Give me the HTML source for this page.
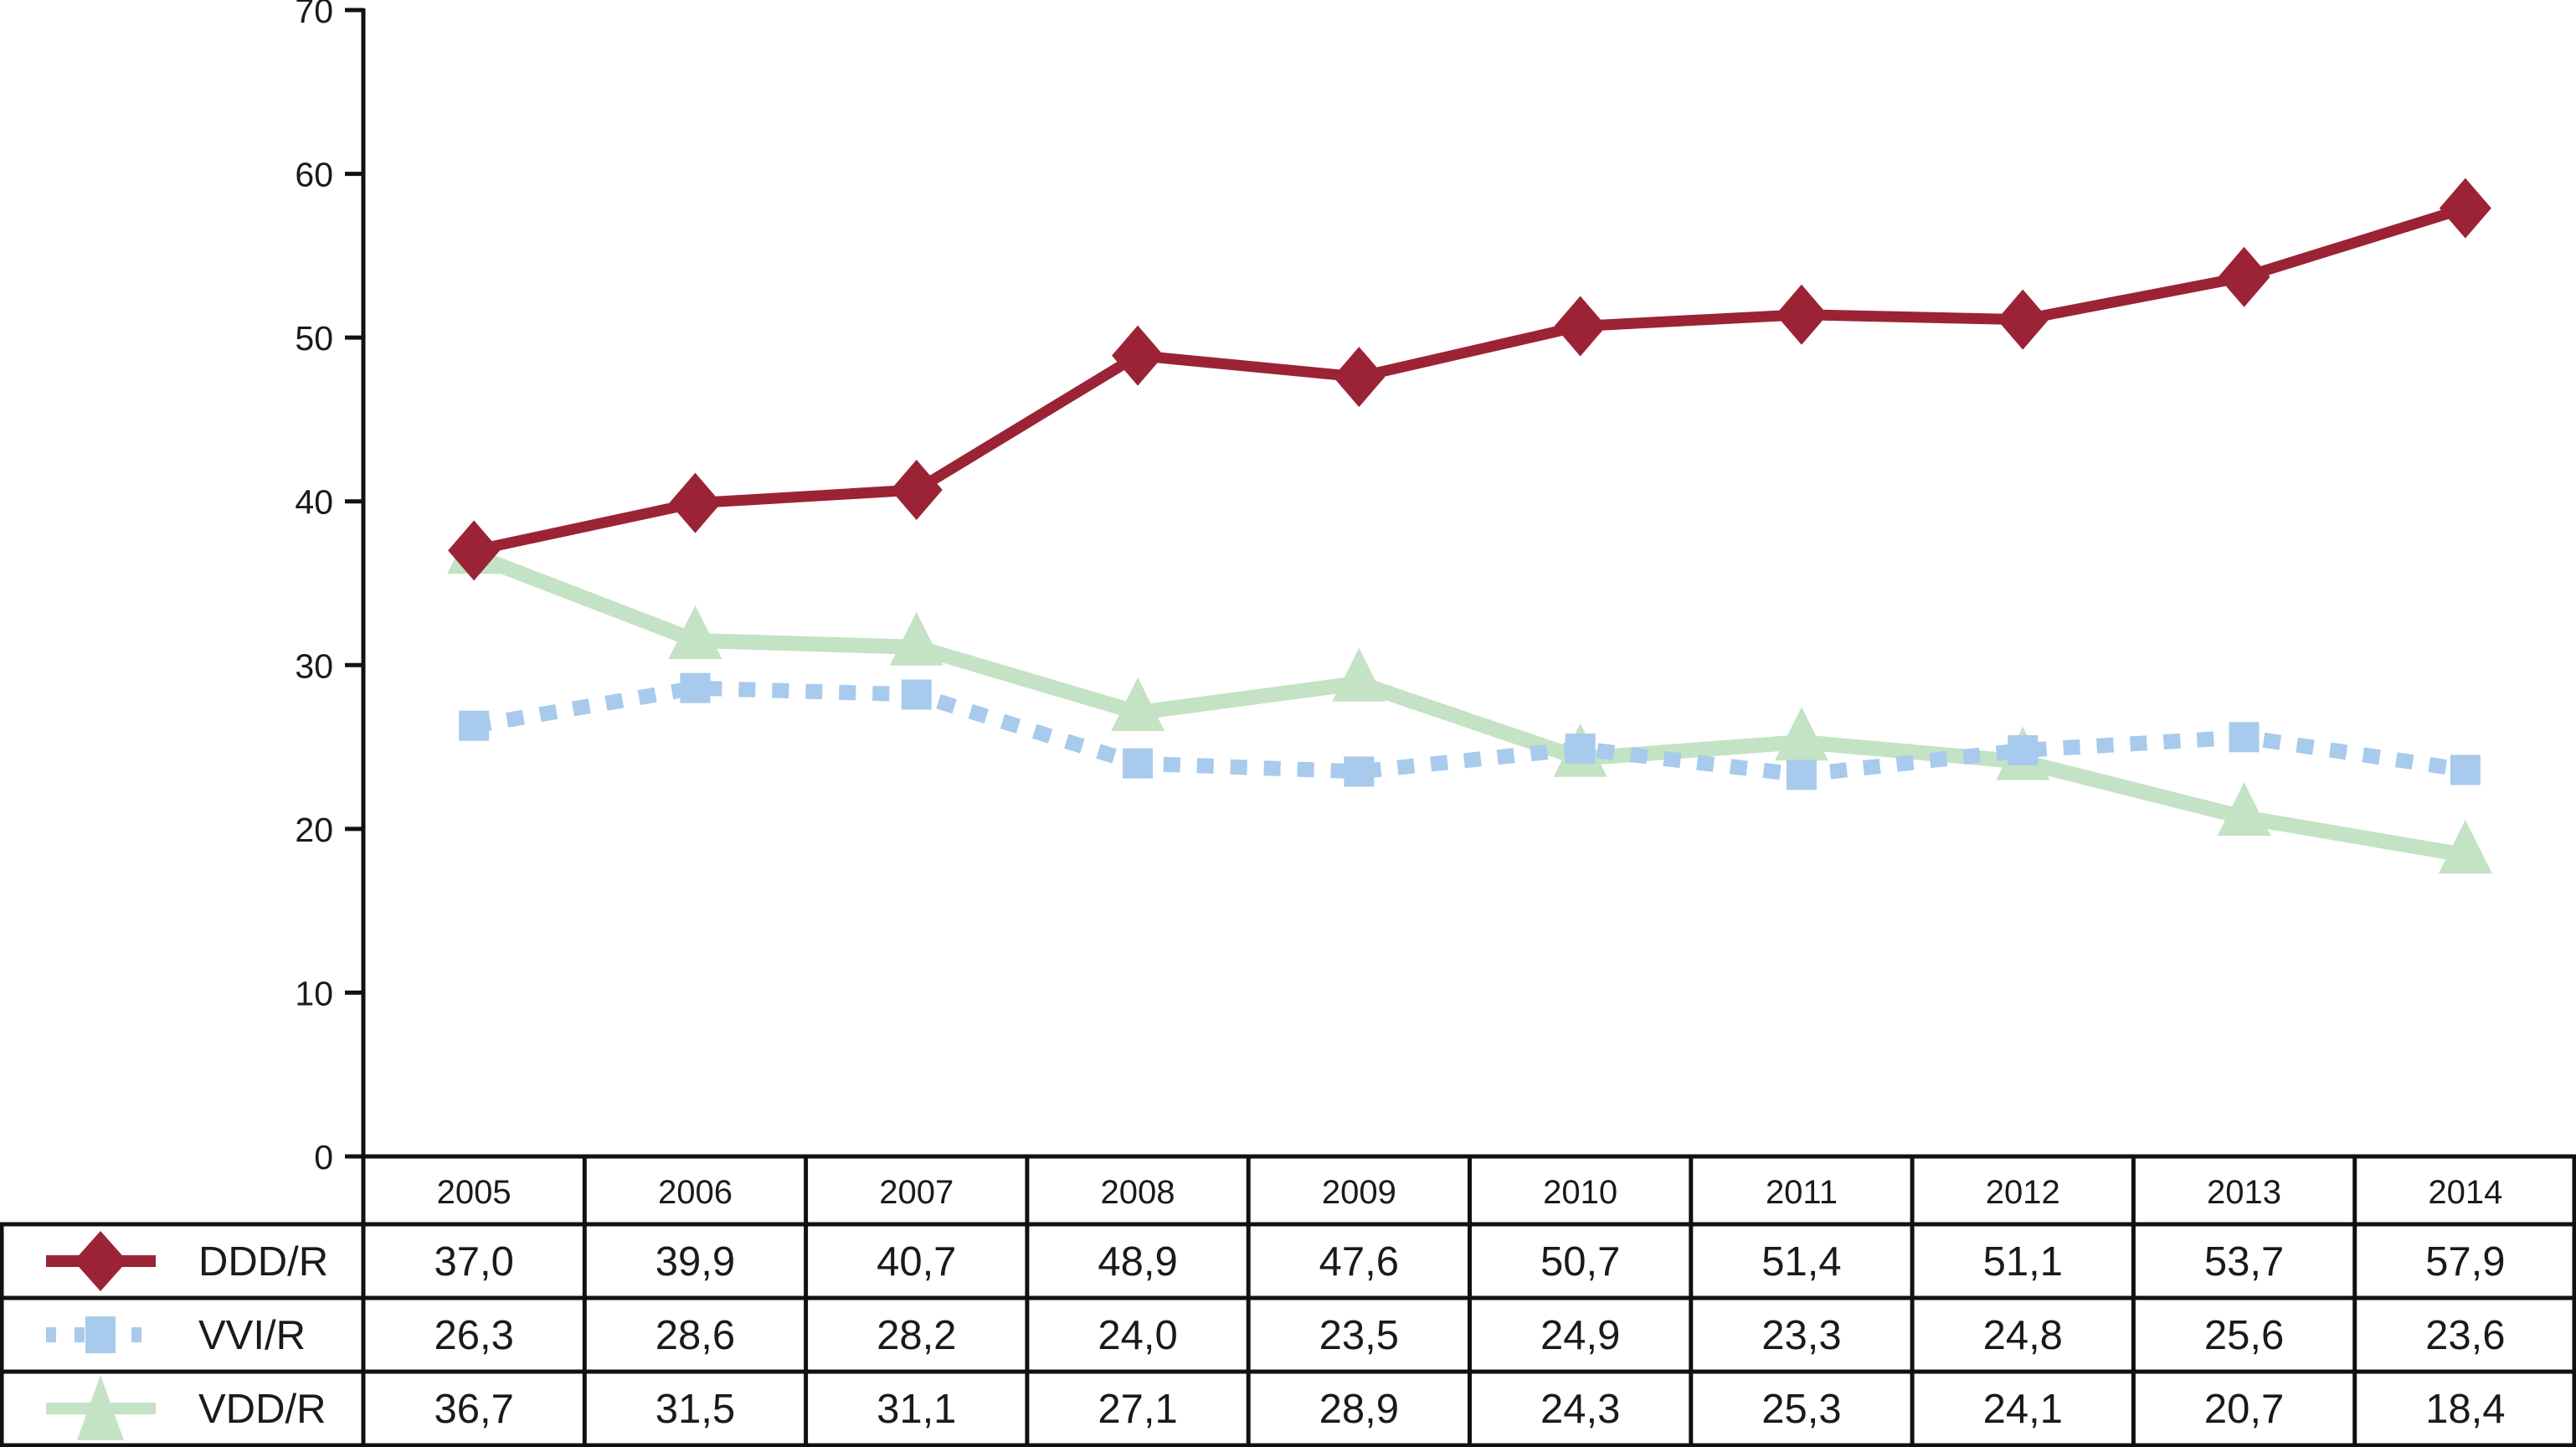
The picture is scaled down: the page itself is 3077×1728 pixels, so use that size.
<!DOCTYPE html>
<html><head><meta charset="utf-8"><style>
html,body{margin:0;padding:0;background:#fff}
svg{display:block}
text{font-family:"Liberation Sans",Arial,sans-serif;fill:#1a1a1a}
</style></head><body>
<svg id="chart" width="3077" height="1728" viewBox="0 0 3077 1728" xmlns="http://www.w3.org/2000/svg"></svg>
<script>
const years = ["2005","2006","2007","2008","2009","2010","2011","2012","2013","2014"];
const dddValues = [37.0,39.9,40.7,48.9,47.6,50.7,51.4,51.1,53.7,57.9];
const vviValues = [26.3,28.6,28.2,24.0,23.5,24.9,23.3,24.8,25.6,23.6];
const vddValues = [36.7,31.5,31.1,27.1,28.9,24.3,25.3,24.1,20.7,18.4];
const yTicks = [0,10,20,30,40,50,60,70];
const seriesNames = ["DDD/R","VVI/R","VDD/R"];

const NS="http://www.w3.org/2000/svg";
const svg=document.getElementById('chart');
const X0=434, X1=3077, Y0=1381, Y70=12;
const colW=(X1-X0)/years.length;
function xScale(i){return X0+colW*(i+0.5);}
function yScale(v){return Y0-(Y0-Y70)*v/70;}
function mk(tag,attrs,parent){const e=document.createElementNS(NS,tag);for(const k in attrs)e.setAttribute(k,attrs[k]);(parent||svg).appendChild(e);return e;}
function fmt(v){return v.toFixed(1).replace('.',',');}

// y axis
const yAxis=mk('g',{});


mk('line',{x1:X0,y1:Y70-2,x2:X0,y2:Y0,stroke:'#111','stroke-width':5},yAxis);
yTicks.forEach(t=>{
  mk('line',{x1:412,y1:yScale(t),x2:X0,y2:yScale(t),stroke:'#111','stroke-width':5},yAxis);
  const tx=mk('text',{x:398,y:yScale(t)+15,'text-anchor':'end','font-size':41},yAxis);
  tx.textContent=t;
  
  
});

// series
const colors=['#9b2335','#a8caec','#c4e2c4'];
function drawLine(vals,color,w,dash,name){
  const g=mk('g',{});
  
  
  const pts=vals.map((v,i)=>xScale(i)+','+yScale(v)).join(' ');
  const a={points:pts,fill:'none',stroke:color,'stroke-width':w,'stroke-linejoin':'miter'};
  if(dash)a['stroke-dasharray']=dash;
  mk('polyline',a,g);
  return g;
}
const gVdd=drawLine(vddValues,colors[2],18,null,'vdd-series');
vddValues.forEach((v,i)=>{
  const x=xScale(i),y=yScale(v);
  const p=mk('polygon',{points:`${x},${y-42} ${x-32},${y+22} ${x+32},${y+22}`,fill:colors[2]},gVdd);
  
  
});
const gVvi=drawLine(vviValues,colors[1],18,'20 20','vvi-series');
vviValues.forEach((v,i)=>{
  const x=xScale(i),y=yScale(v);
  const r=mk('rect',{x:x-18,y:y-18,width:36,height:36,fill:colors[1]},gVvi);
  
  
});
const gDdd=drawLine(dddValues,colors[0],13,null,'ddd-series');
dddValues.forEach((v,i)=>{
  const x=xScale(i),y=yScale(v);
  const p=mk('polygon',{points:`${x},${y-36} ${x+31},${y} ${x},${y+36} ${x-31},${y}`,fill:colors[0]},gDdd);
  
  
});

// table
const tbl=mk('g',{});


const rowY=[1381,1462,1550,1638,1726];
const lw=5;
mk('line',{x1:X0,y1:Y0,x2:X1,y2:Y0,stroke:'#111','stroke-width':lw},tbl);
[1462,1550,1638,1726].forEach(y=>mk('line',{x1:0,y1:y,x2:X1,y2:y,stroke:'#111','stroke-width':lw},tbl));
mk('line',{x1:2,y1:1462,x2:2,y2:1728,stroke:'#111','stroke-width':lw},tbl);
for(let i=0;i<=years.length;i++){
  const x=Math.min(X0+colW*i,X1-2);
  mk('line',{x1:x,y1:Y0,x2:x,y2:1728,stroke:'#111','stroke-width':lw},tbl);
}
years.forEach((yr,i)=>{
  const t=mk('text',{x:xScale(i),y:1437,'text-anchor':'middle','font-size':40},tbl);
  t.textContent=yr;
  
  
});
const allVals=[dddValues,vviValues,vddValues];
allVals.forEach((arr,r)=>{
  const cy=(rowY[r+1]+rowY[r+2])/2;
  arr.forEach((v,i)=>{
    const t=mk('text',{x:xScale(i),y:cy+17,'text-anchor':'middle','font-size':49},tbl);
    t.textContent=fmt(v);
    
    
  });
  // legend
  const lg=mk('g',{},tbl);
  
  
  const a={x1:55,y1:cy,x2:186,y2:cy,stroke:colors[r],'stroke-width':r==1?18:14};
  if(r==1)a['stroke-dasharray']='12 22';
  mk('line',a,lg);
  if(r==0)mk('polygon',{points:`120,${cy-36} 152,${cy} 120,${cy+36} 88,${cy}`,fill:colors[0]},lg);
  if(r==1)mk('rect',{x:102,y:cy-22,width:36,height:44,fill:colors[1]},lg);
  if(r==2)mk('polygon',{points:`120,${cy-40} 92,${cy+38} 148,${cy+38}`,fill:colors[2]},lg);
  const t=mk('text',{x:237,y:cy+17,'font-size':49},lg);
  t.textContent=seriesNames[r];
});
</script>
</body></html>
